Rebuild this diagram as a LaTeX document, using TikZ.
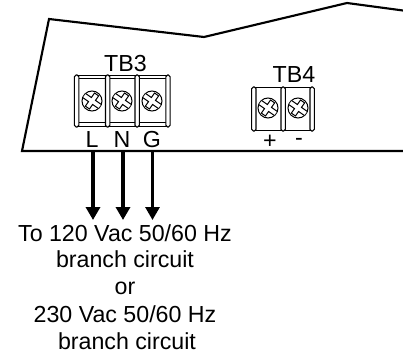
\documentclass[tikz,border=0pt]{standalone}
\usepackage{fontspec}
\setmainfont{Liberation Sans}
\usetikzlibrary{arrows.meta}
\tikzset{
  outline/.style={line width=1.6pt,line join=miter},
  blockline/.style={line width=0.8pt},
  barpost/.style={line width=0.8pt,rounded corners=1.3pt,fill=white},
  screwhead/.style={circle,draw,line width=0.75pt,minimum size=15pt,inner sep=0pt,fill=white},
  lbl/.style={inner sep=0pt,font=\fontsize{17.4}{19}\selectfont,anchor=base},
  feed/.style={-{Triangle[length=9.75pt,width=10.5pt]}}
}
\newcommand{\cross}[2]{%
  \begin{scope}
    \clip (#1,#2) circle (9.6);
    \begin{scope}[shift={(#1,#2)},rotate=-35]
    \draw[line width=0.75pt,fill=white] (-10,-2.5)--(-2.5,-2.5)--(-2.5,-8)--(2.5,-8)--(2.5,-2.5)--(10,-2.5)--(10,2.5)--(2.5,2.5)--(2.5,8)--(-2.5,8)--(-2.5,2.5)--(-10,2.5)--cycle;
    \end{scope}
  \end{scope}}
\begin{document}
\begin{tikzpicture}[x=0.75pt,y=-0.75pt]
\useasboundingbox (0,0) rectangle (403,356);
\draw[outline] (403,10.5)--(347,3)--(204,37)--(49,19)--(22,151)--(403,151);
% TB3
\draw[blockline] (76,75.5)--(168,75.5) (76,78.5)--(168,78.5) (76,122.5)--(168,122.5) (76,126.5)--(168,126.5);
\foreach \x in {76.6,107.7,137.2,168}{\draw[barpost] (\x-2.2,75) rectangle (\x+2.2,127);}
\node[screwhead] (s1) at (92,101) {};
\node[screwhead] (s2) at (122,101) {};
\node[screwhead] (s3) at (152,101) {};
\cross{92}{101}\cross{122}{101}\cross{152}{101}
% TB4
\draw[blockline] (254,87.5)--(312,87.5) (254,130.5)--(312,130.5);
\foreach \x in {253.8,283.2,312.2}{\draw[barpost] (\x-2.2,87) rectangle (\x+2.2,131);}
\node[screwhead] (s4) at (268,108) {};
\node[screwhead] (s5) at (298,108) {};
\cross{268}{108}\cross{298}{108}
% labels
\node[lbl] (tb3) at (125.5,72) {TB3};
\node[lbl] (tb4) at (294,83) {TB4};
\node[lbl] (L) at (92,147) {L};
\node[lbl] (N) at (122,147) {N};
\node[lbl] (G) at (152,147) {G};
\node[lbl] (plus) at (270,148.5) {+};
\node[lbl] (minus) at (299,146) {-};
\coordinate (la) at (93,152);
\coordinate (na) at (123,152);
\coordinate (ga) at (152.5,152);
\coordinate (lb) at (93,220);
\coordinate (nb) at (123,220);
\coordinate (gb) at (152.5,220);
\draw[feed,line width=3pt] (la)--(lb);
\draw[feed,line width=3pt] (na)--(nb);
\draw[feed,line width=2.25pt] (ga)--(gb);
\node[lbl] (t1) at (125,241) {To 120 Vac 50/60 Hz};
\node[lbl] (t2) at (125,267) {branch circuit};
\node[lbl] (t3) at (125,294) {or};
\node[lbl] (t4) at (125,322) {230 Vac 50/60 Hz};
\node[lbl] (t5) at (127,349) {branch circuit};
\end{tikzpicture}
\end{document}
